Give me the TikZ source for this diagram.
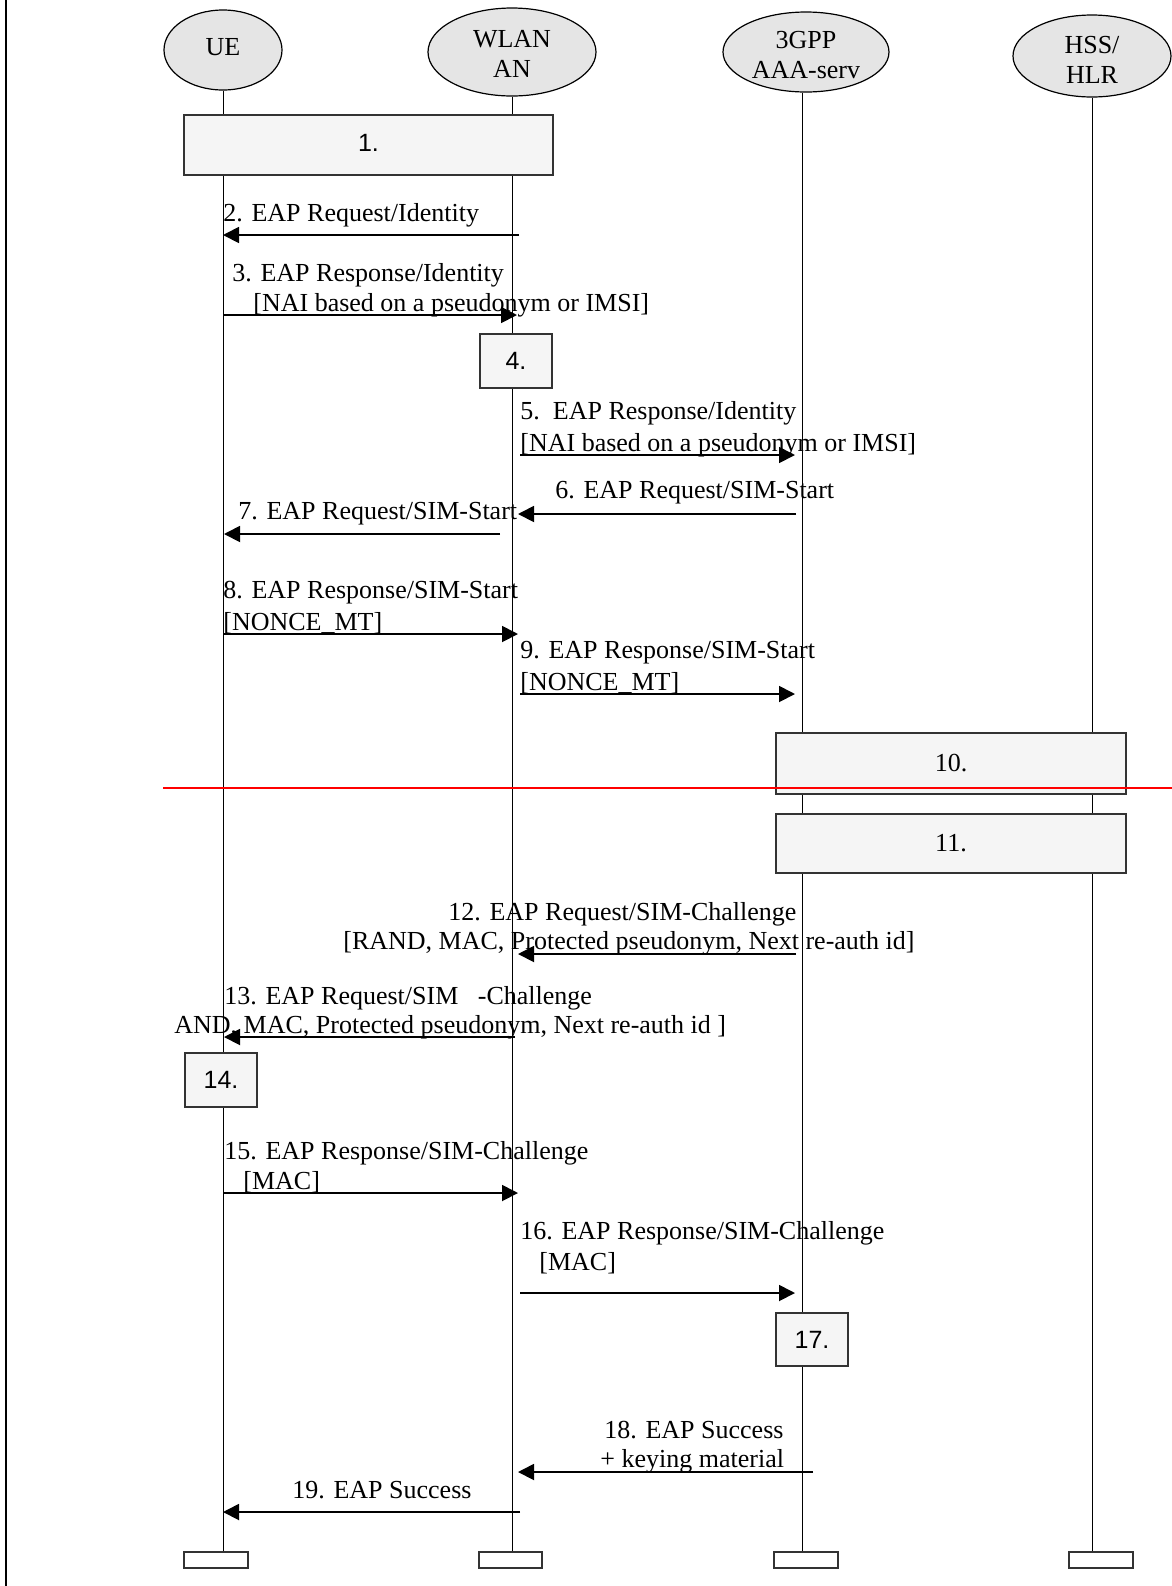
\documentclass[tikz,border=0pt]{standalone}
\usepackage{fontspec}
\setmainfont{Liberation Serif}
\newfontfamily\arialf{Liberation Sans}
\usetikzlibrary{arrows.meta,shapes.geometric,fit}
\begin{document}
\begin{tikzpicture}[x=0.5pt,y=-0.5pt,
  every node/.style={font=\fontsize{13}{15}\selectfont},
  actor/.style={ellipse,draw=black,line width=0.6pt,fill=gray!20,inner sep=0pt},
  actortext/.style={align=center,inner sep=0pt},
  stepbox/.style={draw=black!80,line width=0.8pt,fill=gray!8,inner sep=0pt},
  sanslabel/.style={font=\arialf\fontsize{12.5}{14}\selectfont,inner sep=0pt},
  seriflabel/.style={inner sep=0pt},
  endbox/.style={draw=black!80,line width=0.8pt,fill=white,inner sep=0pt},
  lifeline/.style={line width=0.5pt},
  msg/.style={line width=0.9pt,-{Triangle[length=8pt,width=8pt]}},
  lbl/.style={anchor=west,inner sep=0pt}]
\useasboundingbox (0,0) rectangle (1172,1586);

% left border
\coordinate (bt) at (6,0);
\coordinate (bb) at (6,1586);
\draw[line width=1.2pt] (bt) -- (bb);

% actors
\node[actor,minimum width=59pt,minimum height=40pt] (ue) at (223,50) {};
\node[actortext] (uet) at (223,47) {UE};
\node[actor,minimum width=84pt,minimum height=44pt] (wlan) at (512,52) {};
\node[actortext] (wlant) at (512,54) {WLAN\\AN};
\node[actor,minimum width=83pt,minimum height=40pt] (aaa) at (806,52) {};
\node[actortext] (aaat) at (806,55) {3GPP\\AAA-serv};
\node[actor,minimum width=79pt,minimum height=41pt] (hss) at (1092,56) {};
\node[actortext] (hsst) at (1092,60) {HSS/\\HLR};

% end boxes
\node[endbox,fit={(184,1552)(248,1568)}] (eue) {};
\node[endbox,fit={(479,1552)(542,1568)}] (ewlan) {};
\node[endbox,fit={(774,1552)(838,1568)}] (eaaa) {};
\node[endbox,fit={(1069,1552)(1133,1568)}] (ehss) {};

% lifelines
\draw[lifeline] (ue.south) -- (ue.south |- eue.north);
\draw[lifeline] (wlan.south) -- (wlan.south |- ewlan.north);
\draw[lifeline] ([xshift=-2pt]aaa.south) -- ([xshift=-2pt]aaa.south |- eaaa.north);
\draw[lifeline] (hss.south) -- (hss.south |- ehss.north);

% step boxes
\node[stepbox,fit={(184,115)(553,175)}] (b1) {};
\node[sanslabel] (b1t) at ([yshift=1pt]b1.center) {1.};
\node[stepbox,fit={(480,334)(552,388)}] (b4) {};
\node[sanslabel] (b4t) at (b4.center) {4.};
\node[stepbox,fit={(776,733)(1126,794)}] (b10) {};
\node[seriflabel] (b10t) at (b10.center) {10.};
\node[stepbox,fit={(776,814)(1126,873)}] (b11) {};
\node[seriflabel] (b11t) at (b11.center) {11.};
\node[stepbox,fit={(185,1053)(257,1107)}] (b14) {};
\node[sanslabel] (b14t) at (b14.center) {14.};
\node[stepbox,fit={(776,1313)(848,1366)}] (b17) {};
\node[sanslabel] (b17t) at (b17.center) {17.};

% red line
\coordinate (r1) at (163,788);
\coordinate (r2) at (1172,788);
\draw[red,line width=1pt] (r1) -- (r2);

% messages
\coordinate (m2s) at (519,235);  \coordinate (m2e) at (223,235);
\coordinate (m3s) at (223,315);  \coordinate (m3e) at (517,315);
\coordinate (m5s) at (520,455);  \coordinate (m5e) at (795,455);
\coordinate (m6s) at (796,514);  \coordinate (m6e) at (518,514);
\coordinate (m7s) at (500,534);  \coordinate (m7e) at (224,534);
\coordinate (m8s) at (223,634);  \coordinate (m8e) at (518,634);
\coordinate (m9s) at (520,694);  \coordinate (m9e) at (795,694);
\coordinate (m12s) at (796,954); \coordinate (m12e) at (518,954);
\coordinate (m13s) at (515,1037);\coordinate (m13e) at (224,1037);
\coordinate (m15s) at (223,1193);\coordinate (m15e) at (518,1193);
\coordinate (m16s) at (520,1293);\coordinate (m16e) at (795,1293);
\coordinate (m18s) at (813,1472);\coordinate (m18e) at (518,1472);
\coordinate (m19s) at (520,1512);\coordinate (m19e) at (223,1512);
\foreach \m in {2,3,5,6,7,8,9,12,13,15,16,18,19}{\draw[msg] (m\m s) -- (m\m e);}

% labels
\node[lbl] (t2) at (223,215) {2. EAP Request/Identity};
\node[lbl] (t3a) at (232,275) {3. EAP Response/Identity};
\node[lbl] (t3b) at (253,305) {[NAI based on a pseudonym or IMSI]};
\node[lbl] (t5a) at (520,413) {5.\ \ EAP Response/Identity};
\node[lbl] (t5b) at (520,445) {[NAI based on a pseudonym or IMSI]};
\node[lbl] (t6) at (555,493) {6. EAP Request/SIM-Start};
\node[lbl] (t7) at (238,514) {7. EAP Request/SIM-Start};
\node[lbl] (t8a) at (223,593) {8. EAP Response/SIM-Start};
\node[lbl] (t8b) at (223,623) {[NONCE\_MT]};
\node[lbl] (t9a) at (520,653) {9. EAP Response/SIM-Start};
\node[lbl] (t9b) at (520,683) {[NONCE\_MT]};
\node[lbl] (t12a) at (448,914) {12. EAP Request/SIM-Challenge};
\node[lbl] (t12b) at (343,943) {[RAND, MAC, Protected pseudonym, Next re-auth id]};
\node[lbl] (t13a) at (224,998) {13. EAP Request/SIM\ \ \ -Challenge};
\node[lbl] (t13b) at (174,1027) {AND, MAC, Protected pseudonym, Next re-auth id\ ]};
\node[lbl] (t15a) at (224,1153) {15. EAP Response/SIM-Challenge};
\node[lbl] (t15b) at (243,1182) {[MAC]};
\node[lbl] (t16a) at (520,1233) {16. EAP Response/SIM-Challenge};
\node[lbl] (t16b) at (539,1263) {[MAC]};
\node[lbl] (t18a) at (604,1430) {18. EAP Success};
\node[lbl] (t18b) at (600,1461) {+ keying material};
\node[lbl] (t19) at (292,1490) {19. EAP Success};
\end{tikzpicture}
\end{document}
